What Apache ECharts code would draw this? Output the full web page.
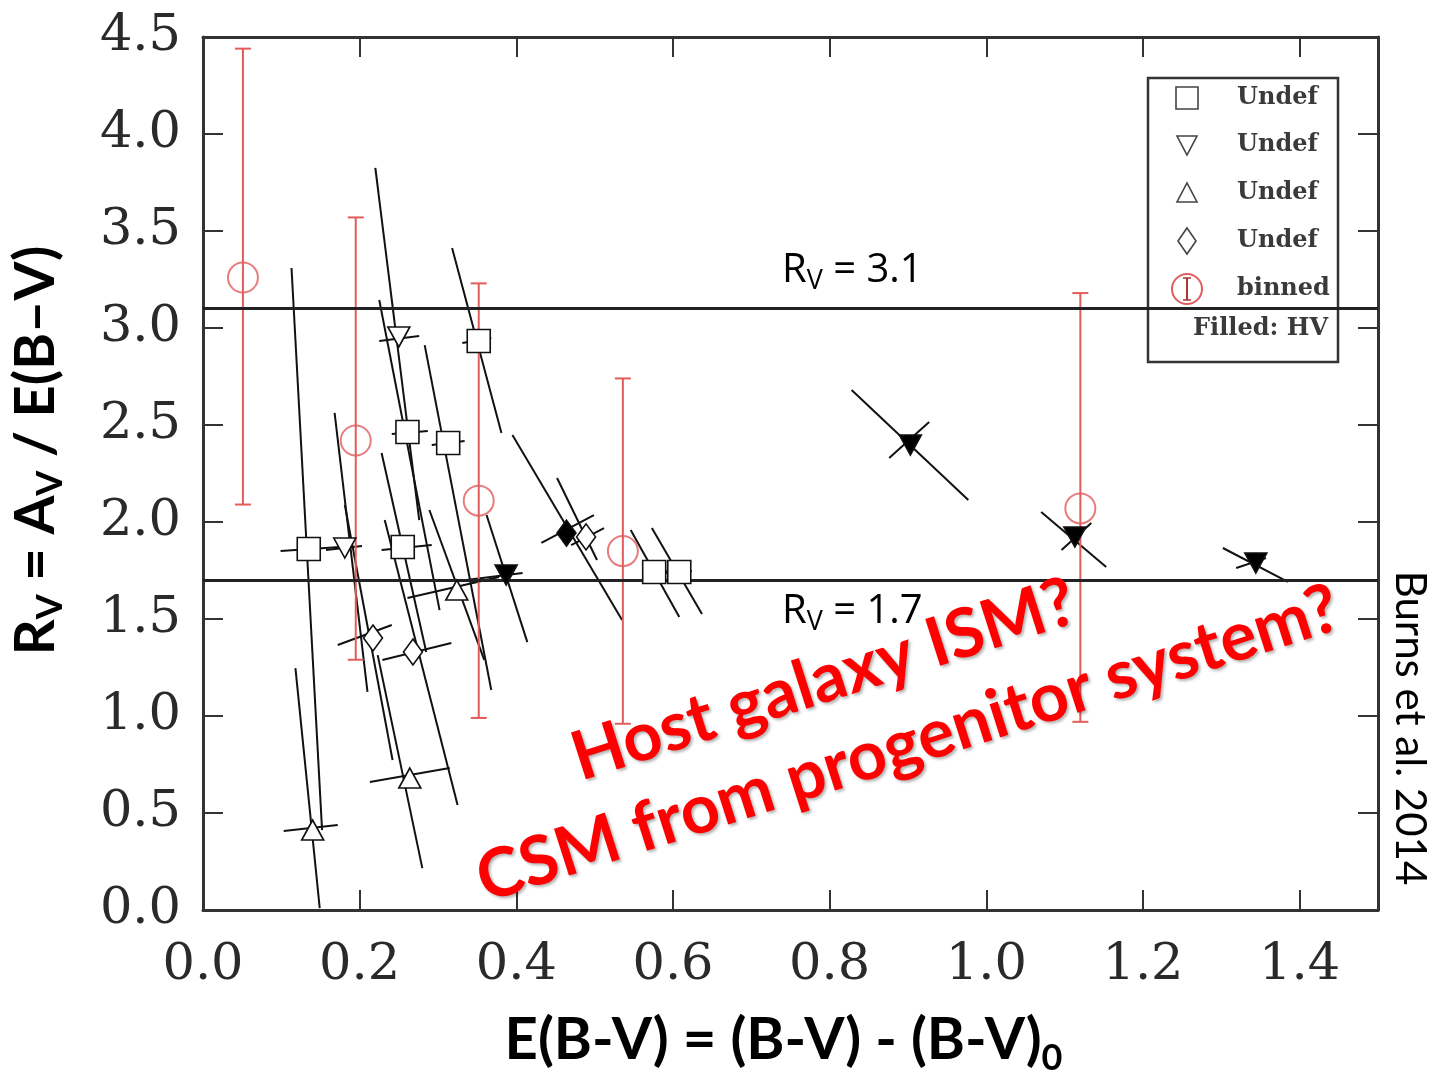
<!DOCTYPE html>
<html><head><meta charset="utf-8">
<script src="https://cdn.jsdelivr.net/npm/echarts@6/dist/echarts.min.js"></script>
<style>html,body{margin:0;padding:0;background:#fff}#c{width:1432px;height:1071px}</style>
</head><body><div id="c"></div>
<script>
// ---- data ----
const pointKind = ['sq','up','dn','sq','sq','dn','sq','sq','dm','dm','up','up','dnF','dmF','dm','sq','sq','dnF','dnF','dnF'];
const pointX = [0.135,0.140,0.181,0.255,0.261,0.250,0.313,0.352,0.217,0.268,0.264,0.324,0.387,0.464,0.489,0.576,0.608,0.903,1.113,1.344];
const pointY = [1.861,0.412,1.866,1.871,2.464,2.954,2.407,2.933,1.402,1.330,0.680,1.649,1.727,1.943,1.923,1.742,1.742,2.397,1.923,1.789];
// long (correlated) error axis: x1,y1,x2,y2
const longAxis = [
  [0.113,3.309,0.152,0.412],[0.118,1.247,0.149,0.010],[0.168,2.562,0.210,1.124],[0.228,2.356,0.285,1.330],
  [0.225,3.144,0.302,1.546],[0.220,3.825,0.276,2.010],[0.283,2.912,0.368,1.134],[0.318,3.412,0.381,2.459],
  [0.181,2.088,0.242,0.773],[0.232,2.010,0.325,0.541],[0.223,1.314,0.280,0.216],[0.289,2.062,0.359,1.289],
  [0.362,2.036,0.414,1.381],[0.395,2.448,0.535,1.495],[0.452,2.227,0.503,1.804],[0.546,1.959,0.608,1.510],
  [0.573,1.969,0.637,1.526],[0.828,2.680,0.977,2.113],[1.070,2.052,1.153,1.768],[1.302,1.866,1.385,1.691]
];
// short error axis: x1,y1,x2,y2
const shortAxis = [
  [0.099,1.851,0.175,1.871],[0.103,0.407,0.172,0.438],[0.157,1.856,0.203,1.876],[0.228,1.856,0.292,1.881],
  [0.241,2.454,0.287,2.469],[0.225,2.933,0.276,2.959],[0.292,2.397,0.334,2.418],[0.331,2.923,0.368,2.948],
  [0.172,1.366,0.241,1.469],[0.229,1.289,0.317,1.376],[0.213,0.660,0.315,0.732],[0.261,1.608,0.378,1.716],
  [0.336,1.701,0.408,1.737],[0.432,1.892,0.499,2.036],[0.470,1.881,0.512,1.969],[0.561,1.737,0.592,1.747],
  [0.591,1.737,0.624,1.747],[0.876,2.330,0.927,2.515],[1.096,1.856,1.134,1.995],[1.319,1.763,1.357,1.814]
];
const binnedX = [0.051, 0.195, 0.352, 0.536, 1.120];
const binnedY = [3.26, 2.42, 2.11, 1.85, 2.07];
const binnedLo = [2.09, 1.29, 0.99, 0.96, 0.97];
const binnedHi = [4.44, 3.57, 3.23, 2.74, 3.18];
const refLines = [3.1, 1.7];
const refLabels = ['3.1', '1.7'];
const legendLabels = ['Undef', 'Undef', 'Undef', 'Undef', 'binned'];

// ---- styling ----
const RED = '#e25c5c';
const kindStyle = {
  sq:  {symbol: 'rect', size: 23, rotate: 0, fill: '#fff'},
  dn:  {symbol: 'triangle', size: [22, 20], rotate: 180, fill: '#fff'},
  up:  {symbol: 'triangle', size: [22, 20], rotate: 0, fill: '#fff'},
  dm:  {symbol: 'diamond', size: [19, 26], rotate: 0, fill: '#fff'},
  dnF: {symbol: 'triangle', size: [22, 20], rotate: 180, fill: '#000'},
  dmF: {symbol: 'diamond', size: [19, 26], rotate: 0, fill: '#000'}
};

const chart = echarts.init(document.getElementById('c'), null, {renderer: 'canvas', width: 1432, height: 1071});

const axisCommon = {
  type: 'value',
  splitLine: {show: false},
  axisLine: {show: true, onZero: false, lineStyle: {color: '#333', width: 3}},
  axisTick: {show: true, inside: true, length: 20, lineStyle: {color: '#333', width: 2}}
};
const labelFont = {fontFamily: 'DejaVu Serif', fontSize: 51, color: '#2a2a2a'};

const scatterSeries = Object.keys(kindStyle).map(k => {
  const st = kindStyle[k];
  const data = [];
  pointKind.forEach((kk, i) => { if (kk === k) data.push([pointX[i], pointY[i]]); });
  return {
    type: 'scatter', name: k, data: data, z: 5,
    symbol: st.symbol, symbolSize: st.size, symbolRotate: st.rotate,
    itemStyle: {color: st.fill, borderColor: '#111', borderWidth: 1.6, opacity: 1},
    emphasis: {disabled: true}
  };
});

const option = {
  animation: false,
  backgroundColor: '#fff',
  grid: {left: 203, right: 54, top: 37, bottom: 161, containLabel: false, outerBoundsMode: 'none'},
  xAxis: [
    Object.assign({}, axisCommon, {
      position: 'bottom', min: 0, max: 1.5, interval: 0.2,
      axisLabel: Object.assign({margin: 30, showMaxLabel: false, formatter: v => v.toFixed(1)}, labelFont),
      name: 'E(B-V) = (B-V) - (B-V){s|0}', nameLocation: 'middle', nameGap: 94,
      nameTextStyle: {fontFamily: 'Lato', fontWeight: 'bold', fontSize: 58, color: '#000', lineHeight: 72,
        padding: [0, 14, 0, 0],
        rich: {s: {fontFamily: 'Lato', fontWeight: 'bold', fontSize: 36, color: '#000', lineHeight: 36, verticalAlign: 'bottom'}}}
    }),
    Object.assign({}, axisCommon, {position: 'top', min: 0, max: 1.5, interval: 0.2, axisLabel: {show: false}})
  ],
  yAxis: [
    Object.assign({}, axisCommon, {
      position: 'left', min: 0, max: 4.5, interval: 0.5,
      axisLabel: Object.assign({margin: 22, formatter: v => v.toFixed(1)}, labelFont),
      name: 'R{s|V} = A{s|V} / E(B\u2013V)', nameLocation: 'middle', nameGap: 135, nameRotate: 90,
      nameTextStyle: {fontFamily: 'Lato', fontWeight: 'bold', fontSize: 56, color: '#000', lineHeight: 64,
        padding: [0, 0, 0, 46],
        rich: {s: {fontFamily: 'Lato', fontWeight: 'bold', fontSize: 36, color: '#000', lineHeight: 36, verticalAlign: 'bottom'}}}
    }),
    Object.assign({}, axisCommon, {position: 'right', min: 0, max: 4.5, interval: 0.5, axisLabel: {show: false}})
  ],
  series: [
    {
      type: 'custom', name: 'errorAxes', z: 3, clip: true,
      data: pointX.map((x, i) => longAxis[i].concat(shortAxis[i])),
      encode: {x: [0, 2, 4, 6], y: [1, 3, 5, 7]},
      renderItem: function (params, api) {
        const a = api.coord([api.value(0), api.value(1)]);
        const b = api.coord([api.value(2), api.value(3)]);
        const c = api.coord([api.value(4), api.value(5)]);
        const d = api.coord([api.value(6), api.value(7)]);
        const st = {stroke: '#111', lineWidth: 2};
        return {type: 'group', children: [
          {type: 'line', shape: {x1: a[0], y1: a[1], x2: b[0], y2: b[1]}, style: st},
          {type: 'line', shape: {x1: c[0], y1: c[1], x2: d[0], y2: d[1]}, style: st}
        ]};
      }
    },
    {
      type: 'custom', name: 'binnedErr', z: 4, clip: true,
      data: binnedX.map((x, i) => [x, binnedLo[i], binnedHi[i]]),
      encode: {x: 0, y: [1, 2]},
      renderItem: function (params, api) {
        const lo = api.coord([api.value(0), api.value(1)]);
        const hi = api.coord([api.value(0), api.value(2)]);
        const st = {stroke: RED, lineWidth: 2};
        const w = 8;
        return {type: 'group', children: [
          {type: 'line', shape: {x1: lo[0], y1: lo[1], x2: hi[0], y2: hi[1]}, style: st},
          {type: 'line', shape: {x1: lo[0] - w, y1: lo[1], x2: lo[0] + w, y2: lo[1]}, style: st},
          {type: 'line', shape: {x1: hi[0] - w, y1: hi[1], x2: hi[0] + w, y2: hi[1]}, style: st}
        ]};
      }
    }
  ].concat(scatterSeries).concat([
    {
      type: 'scatter', name: 'binned', z: 6,
      data: binnedX.map((x, i) => [x, binnedY[i]]),
      symbol: 'circle', symbolSize: 30,
      itemStyle: {color: 'rgba(0,0,0,0)', borderColor: RED, borderWidth: 2},
      emphasis: {disabled: true},
      markLine: {
        silent: true, symbol: ['none', 'none'], animation: false,
        label: {show: false},
        lineStyle: {color: '#222', width: 3, type: 'solid'},
        data: refLines.map(v => ({yAxis: v}))
      }
    }
  ]),
  graphic: []
};

// annotation texts
const g = [];
const sansRich = {
  a: {fontFamily: 'Open Sans', fontSize: 40, fill: '#000'},
  s: {fontFamily: 'Open Sans', fontSize: 27, fill: '#000', lineHeight: 27, verticalAlign: 'bottom'}
};
const refLabelPos = [[782, 271], [782, 612]];
refLabels.forEach((t, i) => {
  g.push({type: 'text', z: 100, x: refLabelPos[i][0], y: refLabelPos[i][1],
    style: {text: '{a|R}{s|V}{a| = ' + t + '}', rich: sansRich, align: 'left', verticalAlign: 'middle', lineHeight: 48}});
});
const redStyle = {fontFamily: 'Lato', fontWeight: 'bold', fontSize: 68, fill: '#ff0000', align: 'center', verticalAlign: 'middle',
  textShadowColor: 'rgba(0,0,0,0.3)', textShadowBlur: 3, textShadowOffsetX: 2, textShadowOffsetY: 2};
g.push({type: 'text', z: 110, x: 824, y: 680, rotation: 0.31, style: Object.assign({text: 'Host galaxy ISM?'}, redStyle)});
g.push({type: 'text', z: 110, x: 908, y: 744, rotation: 0.31, style: Object.assign({text: 'CSM from progenitor system?'}, redStyle)});
g.push({type: 'text', z: 100, x: 1410, y: 728, rotation: -Math.PI / 2,
  style: {text: 'Burns et al. 2014', fontFamily: 'Lato', fontSize: 42, fill: '#000', align: 'center', verticalAlign: 'middle'}});

// legend box
const LX = 1187;
const legRows = [98, 145, 193, 241, 289];
const legChildren = [
  {type: 'rect', shape: {x: 1148, y: 78, width: 190, height: 284}, style: {fill: '#fff', stroke: '#333', lineWidth: 2.5}},
  {type: 'rect', shape: {x: LX - 11, y: legRows[0] - 11, width: 22, height: 22}, style: {fill: '#fff', stroke: '#444', lineWidth: 1.6}},
  {type: 'polygon', shape: {points: [[LX - 10, legRows[1] - 9], [LX + 10, legRows[1] - 9], [LX, legRows[1] + 10]]}, style: {fill: '#fff', stroke: '#444', lineWidth: 1.6}},
  {type: 'polygon', shape: {points: [[LX - 10, legRows[2] + 9], [LX + 10, legRows[2] + 9], [LX, legRows[2] - 10]]}, style: {fill: '#fff', stroke: '#444', lineWidth: 1.6}},
  {type: 'polygon', shape: {points: [[LX, legRows[3] - 13], [LX + 9, legRows[3]], [LX, legRows[3] + 13], [LX - 9, legRows[3]]]}, style: {fill: '#fff', stroke: '#444', lineWidth: 1.6}},
  {type: 'circle', shape: {cx: LX, cy: legRows[4], r: 15}, style: {fill: 'none', stroke: RED, lineWidth: 2}},
  {type: 'line', shape: {x1: LX, y1: legRows[4] - 11, x2: LX, y2: legRows[4] + 11}, style: {stroke: '#a33', lineWidth: 2}},
  {type: 'line', shape: {x1: LX - 4, y1: legRows[4] - 11, x2: LX + 4, y2: legRows[4] - 11}, style: {stroke: '#a33', lineWidth: 1.5}},
  {type: 'line', shape: {x1: LX - 4, y1: legRows[4] + 11, x2: LX + 4, y2: legRows[4] + 11}, style: {stroke: '#a33', lineWidth: 1.5}}
];
legendLabels.forEach((t, i) => {
  legChildren.push({type: 'text', x: 1237, y: legRows[i],
    style: {text: t, fontFamily: 'DejaVu Serif', fontSize: 24, fontWeight: 'bold', fill: '#3a3a3a', align: 'left', verticalAlign: 'middle'}});
});
legChildren.push({type: 'text', x: 1328, y: 329,
  style: {text: 'Filled: HV', fontFamily: 'DejaVu Serif', fontSize: 24, fontWeight: 'bold', fill: '#3a3a3a', align: 'right', verticalAlign: 'middle'}});
g.push({type: 'group', z: 90, children: legChildren});

option.graphic = g;
chart.setOption(option);
</script>
</body></html>
